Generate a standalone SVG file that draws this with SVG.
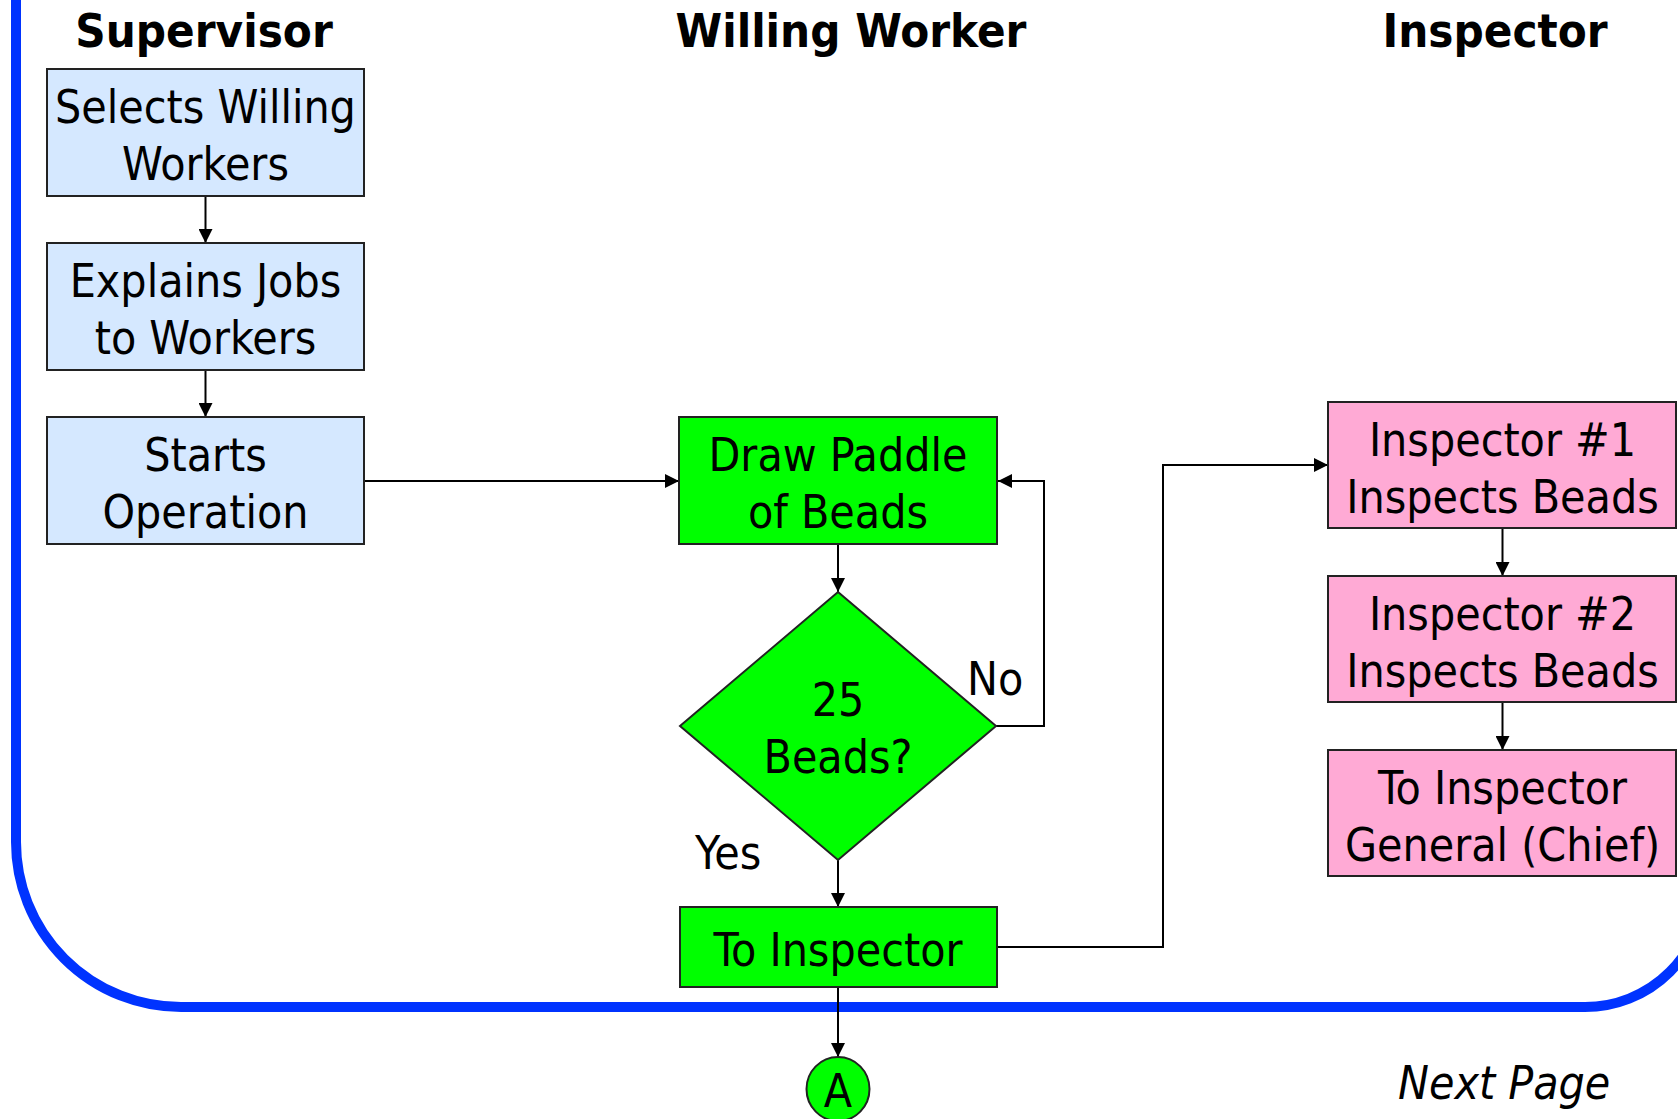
<svg xmlns="http://www.w3.org/2000/svg" width="1678" height="1119" viewBox="0 0 1678 1119">
<style>
  text { font-family: "DejaVu Sans Condensed", "DejaVu Sans", sans-serif; font-stretch: condensed; font-size: 46px; fill: #000; text-anchor: middle; }
  .title { font-weight: bold; font-size: 47px; }
  .lbl { text-anchor: start; }
  .italic { font-style: italic; text-anchor: start; }
  .sup { fill: #d5e8ff; stroke: #222; stroke-width: 2; }
  .wrk { fill: #00ff00; stroke: #222; stroke-width: 2; }
  .ins { fill: #ffaad5; stroke: #222; stroke-width: 2; }
  .conn { fill: none; stroke: #000; stroke-width: 2; marker-end: url(#arr); }
</style>
<defs>
  <marker id="arr" markerWidth="14" markerHeight="14" refX="14" refY="7" orient="auto" markerUnits="userSpaceOnUse">
    <path d="M0,0 L14,7 L0,14 Z" fill="#000"/>
  </marker>
</defs>
<rect x="0" y="0" width="1678" height="1119" fill="#fff"/>
<path id="frame" d="M16,-20 L16,842 A165,165 0 0 0 181,1007 L1585,1007 A120,120 0 0 0 1705,887 L1705,-20" fill="none" stroke="#0033ff" stroke-width="10"/>

<g id="titles">
  <text class="title" x="204" y="47">Supervisor</text>
  <text class="title" x="851" y="47">Willing Worker</text>
  <text class="title" x="1495" y="47">Inspector</text>
</g>

<g id="connectors">
  <line class="conn" x1="205.5" y1="196" x2="205.5" y2="243"/>
  <line class="conn" x1="205.5" y1="370" x2="205.5" y2="417"/>
  <line class="conn" x1="364" y1="481" x2="679" y2="481"/>
  <line class="conn" x1="838" y1="544" x2="838" y2="592"/>
  <polyline class="conn" points="996,726 1044,726 1044,481 998,481"/>
  <line class="conn" x1="838" y1="860" x2="838" y2="907"/>
  <polyline class="conn" points="997,947 1163,947 1163,465 1328,465"/>
  <line class="conn" x1="838" y1="987" x2="838" y2="1057"/>
  <line class="conn" x1="1502.5" y1="528" x2="1502.5" y2="576"/>
  <line class="conn" x1="1502.5" y1="702" x2="1502.5" y2="750"/>
  <text class="lbl" x="967" y="695">No</text>
  <text class="lbl" x="695" y="869">Yes</text>
</g>

<g id="n-select">
  <rect class="sup" x="47" y="69" width="317" height="127"/>
  <text x="205.5" y="123">Selects Willing</text>
  <text x="205.5" y="180">Workers</text>
</g>
<g id="n-explain">
  <rect class="sup" x="47" y="243" width="317" height="127"/>
  <text x="205.5" y="297">Explains Jobs</text>
  <text x="205.5" y="354">to Workers</text>
</g>
<g id="n-start">
  <rect class="sup" x="47" y="417" width="317" height="127"/>
  <text x="205.5" y="471">Starts</text>
  <text x="205.5" y="528">Operation</text>
</g>

<g id="n-draw">
  <rect class="wrk" x="679" y="417" width="318" height="127"/>
  <text x="838" y="471">Draw Paddle</text>
  <text x="838" y="528">of Beads</text>
</g>
<g id="n-decision">
  <polygon class="wrk" points="838,592 996,726 838,860 680,726"/>
  <text x="838" y="716">25</text>
  <text x="838" y="773">Beads?</text>
</g>
<g id="n-toinsp">
  <rect class="wrk" x="680" y="907" width="317" height="80"/>
  <text x="838" y="966">To Inspector</text>
</g>
<g id="n-A">
  <ellipse class="wrk" cx="838" cy="1089" rx="31.5" ry="32"/>
  <text x="838" y="1107">A</text>
</g>

<g id="n-insp1">
  <rect class="ins" x="1328" y="402" width="348" height="126"/>
  <text x="1502.5" y="456">Inspector #1</text>
  <text x="1502.5" y="513">Inspects Beads</text>
</g>
<g id="n-insp2">
  <rect class="ins" x="1328" y="576" width="348" height="126"/>
  <text x="1502.5" y="630">Inspector #2</text>
  <text x="1502.5" y="687">Inspects Beads</text>
</g>
<g id="n-insp3">
  <rect class="ins" x="1328" y="750" width="348" height="126"/>
  <text x="1502.5" y="804">To Inspector</text>
  <text x="1502.5" y="861">General (Chief)</text>
</g>

<g id="next">
  <text class="italic" x="1398" y="1099">Next Page</text>
</g>
</svg>
